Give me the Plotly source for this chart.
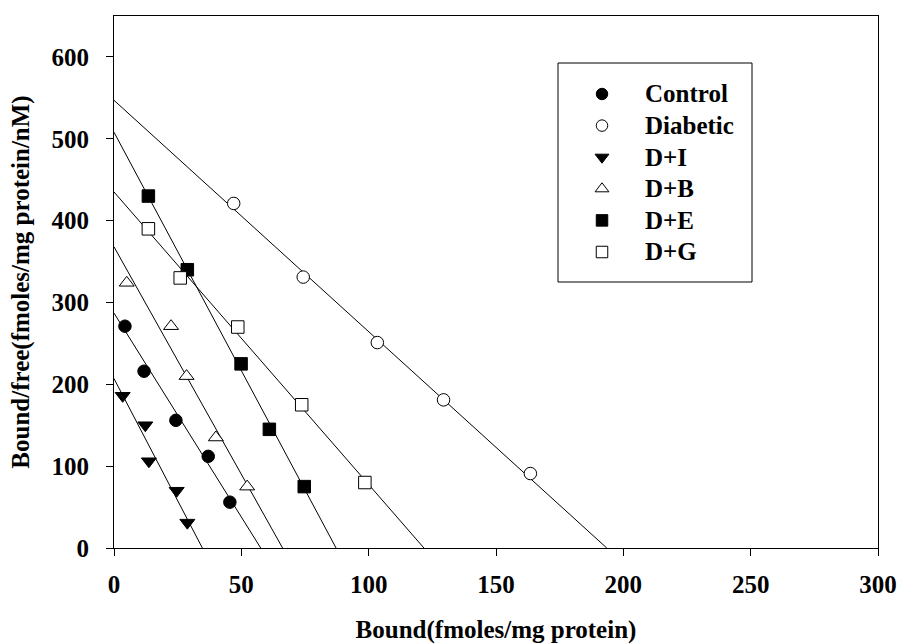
import plotly.graph_objects as go

# Scatchard data: bound (fmoles/mg protein) vs bound/free (fmoles/mg protein/nM)
groups = ["Control", "Diabetic", "D+I", "D+B", "D+E", "D+G"]

control_bound = [4.3, 11.8, 24.3, 37.0, 45.5]
control_ratio = [271, 216, 156, 112, 56]
diabetic_bound = [47.0, 74.3, 103.4, 129.4, 163.5]
diabetic_ratio = [421, 331, 251, 181, 91]
di_bound = [3.4, 12.3, 13.7, 24.6, 28.8]
di_ratio = [186, 150, 106, 70, 31]
db_bound = [5.0, 22.4, 28.5, 40.0, 52.3]
db_ratio = [324, 271, 210, 135, 75]
de_bound = [13.5, 28.8, 49.9, 61.0, 74.7]
de_ratio = [430, 340, 225, 145, 75]
dg_bound = [13.5, 26.0, 48.6, 73.7, 98.5]
dg_ratio = [390, 330, 270, 175, 80]

# Regression lines: value at zero bound and the x-intercept (Bmax)
fit_intercept = [287, 547, 207, 368, 508, 435]
fit_bmax = [57.6, 193.5, 34.7, 66.2, 87.2, 121.7]

x_ticks = [0, 50, 100, 150, 200, 250, 300]
y_ticks = [0, 100, 200, 300, 400, 500, 600]

bound = [control_bound, diabetic_bound, di_bound, db_bound, de_bound, dg_bound]
ratio = [control_ratio, diabetic_ratio, di_ratio, db_ratio, de_ratio, dg_ratio]
symbols = ["circle", "circle", "triangle-down", "triangle-up", "square", "square"]
fills = ["black", "white", "black", "white", "black", "white"]
sizes = [12.5, 12.5, 13, 13, 12.5, 12.5]

FONT = dict(family="Liberation Serif, Times New Roman, serif", size=25,
            color="black", weight="bold")

W, H = 899, 644
ML, MR, MT, MB = 114, 21, 16, 96
PW, PH = W - ML - MR, H - MT - MB

fig = go.Figure()

# fitted lines underneath the points
for b0, bmax in zip(fit_intercept, fit_bmax):
    fig.add_trace(go.Scatter(
        x=[0, bmax], y=[b0, 0], mode="lines",
        line=dict(color="black", width=1), showlegend=False, hoverinfo="skip"))

for name, xs, ys, sym, fc, sz in zip(groups, bound, ratio, symbols, fills, sizes):
    fig.add_trace(go.Scatter(
        x=xs, y=ys, mode="markers", name=name, showlegend=False,
        marker=dict(symbol=sym, size=sz, color=fc,
                    line=dict(color="black", width=1))))

# legend panel: keys drawn on an overlay axis spanning the plot area (0..1)
key_x = (602 - ML) / PW
text_x = (643 - ML) / PW
first_row, row_gap = 94, 31.6


def py(px):
    return 1 - (px - MT) / PH


for i, (name, sym, fc, sz) in enumerate(zip(groups, symbols, fills, sizes)):
    rowy = py(first_row + i * row_gap)
    fig.add_trace(go.Scatter(
        x=[key_x], y=[rowy], xaxis="x2", yaxis="y2", mode="markers",
        showlegend=False, hoverinfo="skip",
        marker=dict(symbol=sym, size=sz - 1, color=fc,
                    line=dict(color="black", width=1))))
    fig.add_annotation(x=text_x, y=rowy, xref="paper", yref="paper",
                       text=name, showarrow=False, xanchor="left",
                       yanchor="middle", font=FONT)

fig.add_shape(type="rect", xref="paper", yref="paper",
              x0=(558 - ML) / PW, x1=(752 - ML) / PW,
              y0=py(282), y1=py(63),
              line=dict(color="black", width=1), fillcolor="rgba(0,0,0,0)")

axis_common = dict(
    showgrid=False, zeroline=False, showline=True, linecolor="black",
    linewidth=1, mirror=True, ticks="outside", ticklen=7, tickwidth=1,
    tickcolor="black", tickfont=FONT, automargin=False)

fig.update_layout(
    width=W, height=H,
    margin=dict(l=ML, r=MR, t=MT, b=MB),
    paper_bgcolor="white", plot_bgcolor="white",
    showlegend=False,
    xaxis=dict(range=[0, 300], tickvals=x_ticks, ticklabelstandoff=7,
               title=dict(text="Bound(fmoles/mg protein)", font=FONT,
                          standoff=24),
               **axis_common),
    yaxis=dict(range=[0, 650], tickvals=y_ticks, ticklabelstandoff=12,
               title=dict(text="Bound/free(fmoles/mg protein/nM)", font=FONT,
                          standoff=14),
               **axis_common),
    xaxis2=dict(overlaying="x", range=[0, 1], visible=False, anchor="y2",
                fixedrange=True),
    yaxis2=dict(overlaying="y", range=[0, 1], visible=False, anchor="x2",
                fixedrange=True),
)

fig.write_html("out.html")
